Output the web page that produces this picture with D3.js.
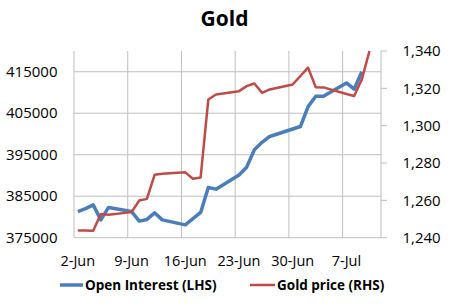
<!DOCTYPE html>
<html><head><meta charset="utf-8">
<script src="https://cdn.jsdelivr.net/npm/d3@7"></script>
<style>body{margin:0;background:#fff;} svg{display:block;}</style>
</head><body>
<script>
const dates = ["2014-06-02","2014-06-03","2014-06-04","2014-06-05","2014-06-06",
  "2014-06-09","2014-06-10","2014-06-11","2014-06-12","2014-06-13",
  "2014-06-16","2014-06-17","2014-06-18","2014-06-19","2014-06-20",
  "2014-06-23","2014-06-24","2014-06-25","2014-06-26","2014-06-27",
  "2014-06-30","2014-07-01","2014-07-02","2014-07-03","2014-07-04",
  "2014-07-07","2014-07-08","2014-07-09","2014-07-10"];
const openInterest = [381300,382000,382900,379300,382300,
  381300,379000,379400,381000,379300,
  378100,379600,381100,387100,386700,
  390100,392000,396200,398000,399400,
  401200,401800,406600,409100,409100,
  412300,410800,415000,null];
const goldPrice = [1243.8,1243.9,1243.7,1252.7,1252.3,
  1253.7,1259.9,1260.8,1273.7,1274.2,
  1275.0,1271.6,1272.3,1314.0,1316.7,
  1318.5,1321.2,1322.6,1317.6,1319.4,
  1322.1,1326.6,1331.1,1320.6,1320.5,
  1317.0,1315.9,1324.8,1340.0];
const xTickLabels = ["2-Jun","9-Jun","16-Jun","23-Jun","30-Jun","7-Jul"];
const leftTicks = [375000,385000,395000,405000,415000];
const rightTicks = [1240,1260,1280,1300,1320,1340];
const seriesNames = ["Open Interest (LHS)","Gold price (RHS)"];
const title = "Gold";

const W=450,H=308;
const L=74,R=381,T=51,B=237.7;
const parse=d3.utcParse("%Y-%m-%d");
const start=parse("2014-06-02"), end=parse("2014-07-12");
const x=d3.scaleUtc().domain([start,end]).range([L,R]);
const half=(x(d3.utcDay.offset(start,1))-x(start))/2;
const px=d=>x(parse(d))+half;
const yL=d3.scaleLinear().domain([375000,420000]).range([B,T]);
const yR=d3.scaleLinear().domain([1240,1340]).range([B,T]);

const svg=d3.select("body").append("svg").attr("width",W).attr("height",H);
const font="'Open Sans', sans-serif";
const grid="#bfbfbf";

// horizontal grid
svg.append("g").selectAll("line").data(leftTicks.slice(1)).join("line")
  .attr("x1",L).attr("x2",R).attr("y1",d=>yL(d)).attr("y2",d=>yL(d))
  .attr("stroke",grid).attr("stroke-width",1);
// vertical grid
const weekTicks=d3.utcDay.range(start,end,7);
svg.append("g").selectAll("line").data(weekTicks).join("line")
  .attr("x1",d=>x(d)).attr("x2",d=>x(d)).attr("y1",T).attr("y2",B)
  .attr("stroke",grid).attr("stroke-width",1);
// axes lines
svg.append("line").attr("x1",L).attr("x2",R).attr("y1",B).attr("y2",B).attr("stroke",grid);
svg.append("line").attr("x1",R).attr("x2",R).attr("y1",T).attr("y2",B).attr("stroke",grid);

// left axis labels
svg.append("g").selectAll("text").data(leftTicks).join("text")
  .attr("x",57.5).attr("y",d=>yL(d)).attr("dy","0.35em").attr("text-anchor","end")
  .attr("font-family",font).attr("font-size",15).attr("fill","#000").text(d=>d);
// right axis ticks + labels
svg.append("g").selectAll("line").data(rightTicks).join("line")
  .attr("x1",R).attr("x2",R+6).attr("y1",d=>yR(d)).attr("y2",d=>yR(d)).attr("stroke",grid);
svg.append("g").selectAll("text").data(rightTicks).join("text")
  .attr("x",402.5).attr("y",d=>yR(d)).attr("dy","0.35em").attr("text-anchor","start")
  .attr("font-family",font).attr("font-size",15).attr("fill","#000").text(d=>d3.format(",")(d));
// x labels
svg.append("g").selectAll("text").data(weekTicks).join("text")
  .attr("x",(d)=>x(d)+half).attr("y",261).attr("dy","0.35em").attr("text-anchor","middle")
  .attr("font-family",font).attr("font-size",14.5).attr("fill","#000")
  .text((d,i)=>xTickLabels[i]);

const blue="#4a7ebb", red="#be4b48";
const rows=dates.map((d,i)=>({d,oi:openInterest[i],gp:goldPrice[i]}));
svg.append("path").datum(rows.filter(r=>r.oi!=null))
  .attr("d",d3.line().x(r=>px(r.d)).y(r=>yL(r.oi)))
  .attr("fill","none").attr("stroke",blue).attr("stroke-width",3.5).attr("stroke-linejoin","round");
svg.append("path").datum(rows)
  .attr("d",d3.line().x(r=>px(r.d)).y(r=>yR(r.gp)))
  .attr("fill","none").attr("stroke",red).attr("stroke-width",2.5).attr("stroke-linejoin","round");

// title
svg.append("text").attr("x",224.5).attr("y",26).attr("text-anchor","middle")
  .attr("font-family",font).attr("font-weight","bold").attr("font-size",21).text(title);

// legend
const leg=[{n:seriesNames[0],c:blue,x1:60,x2:83,tx:85},{n:seriesNames[1],c:red,x1:250,x2:275,tx:277}];
const lg=svg.append("g").selectAll("g").data(leg).join("g");
lg.append("line").attr("x1",d=>d.x1).attr("x2",d=>d.x2).attr("y1",285).attr("y2",285)
  .attr("stroke",d=>d.c).attr("stroke-width",d=>d.c===blue?3.5:2.5);
lg.append("text").attr("x",d=>d.tx).attr("y",285).attr("dy","0.35em")
  .attr("font-family",font).attr("font-weight","bold").attr("font-size",13.5).text(d=>d.n);
</script>
</body></html>
